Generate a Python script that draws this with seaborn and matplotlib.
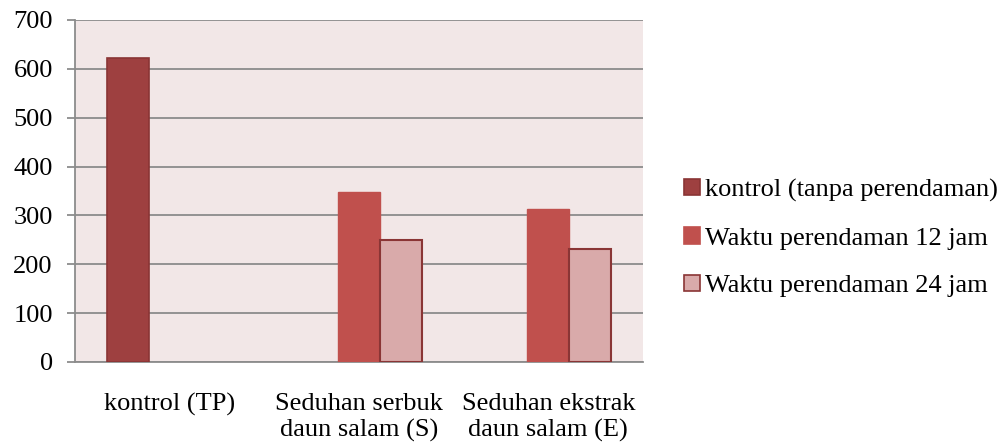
import numpy as np
import pandas as pd
import matplotlib
matplotlib.use("Agg")
import matplotlib.pyplot as plt
import seaborn as sns
from matplotlib.patches import Patch

categories = ["kontrol (TP)", "Seduhan serbuk\ndaun salam (S)", "Seduhan ekstrak\ndaun salam (E)"]
series = ["kontrol (tanpa perendaman)", "Waktu perendaman 12 jam", "Waktu perendaman 24 jam"]
kontrol_vals = [622, np.nan, np.nan]
jam12_vals = [np.nan, 347, 314]
jam24_vals = [np.nan, 250, 231]
yticks = [0, 100, 200, 300, 400, 500, 600, 700]

colors = ["#9E4040", "#C0504D", "#D9AAAA"]
edges = ["#8A3535", "#C0504D", "#8A3535"]

rows = []
for s, vals in zip(series, [kontrol_vals, jam12_vals, jam24_vals]):
    for c, v in zip(categories, vals):
        rows.append({"cat": c, "series": s, "value": v})
df = pd.DataFrame(rows)

sns.set_theme(style="white")
plt.rcParams["font.family"] = ["Liberation Serif", "DejaVu Serif"]
plt.rcParams["text.color"] = "black"
plt.rcParams["xtick.color"] = "black"
plt.rcParams["ytick.color"] = "black"

FS = 19

fig = plt.figure(figsize=(10.03, 4.46), dpi=100)
ax = fig.add_axes([75/1003, 1-362/446, (643-75)/1003, (362-20)/446])
ax.set_facecolor("#F2E7E7")

sns.barplot(data=df, x="cat", y="value", hue="series", order=categories,
            hue_order=series, palette=colors, width=2/3, dodge=True,
            saturation=1, errorbar=None, legend=False, ax=ax, zorder=3)

for cont, ec, lw in zip(ax.containers, edges, [1.2, 1.0, 1.5]):
    for p in cont:
        p.set_edgecolor(ec)
        p.set_linewidth(lw)

ax.set_ylim(0, 700)
ax.set_xlim(-0.5, 2.5)
ax.set_yticks(yticks)
ax.set_yticklabels([str(t) for t in yticks], fontsize=FS, color="black")
ax.yaxis.grid(True, color="#8C8C8C", linewidth=1.3, zorder=1)
ax.set_axisbelow(True)

ax.set_xticks(range(len(categories)))
ax.set_xticklabels(categories, fontsize=FS, color="black", linespacing=1.25)
ax.tick_params(axis="x", which="major", length=0, pad=22)
ax.set_xticks([-0.5, 0.5, 1.5, 2.5], minor=True)
ax.tick_params(axis="x", which="minor", length=6, width=1.3, color="#8C8C8C", direction="out")
ax.tick_params(axis="y", length=6, width=1.3, color="#8C8C8C", direction="out", pad=10, left=True)

for side in ["top", "right"]:
    ax.spines[side].set_visible(False)
for side in ["left", "bottom"]:
    ax.spines[side].set_color("#8C8C8C")
    ax.spines[side].set_linewidth(1.3)

ax.set_xlabel("")
ax.set_ylabel("")

handles = [Patch(facecolor=c, edgecolor=e, linewidth=1.2) for c, e in zip(colors, edges)]
fig.legend(handles, series, loc="center left", bbox_to_anchor=(684/1003, 1-238/446),
           frameon=False, fontsize=FS, handlelength=0.6, handleheight=0.6,
           handletextpad=0.2, labelspacing=0.95, borderpad=0, borderaxespad=0)

fig.savefig("out.png", dpi=100)
